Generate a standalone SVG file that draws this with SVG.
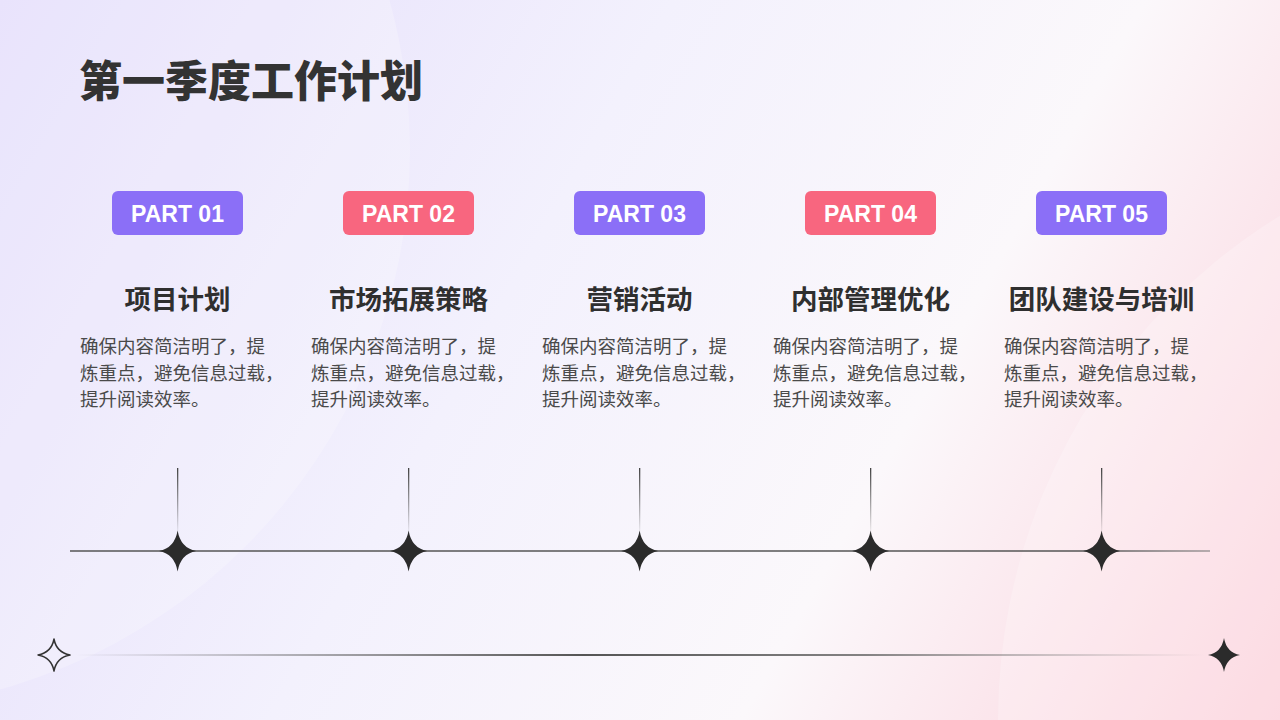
<svg xmlns="http://www.w3.org/2000/svg" width="1280" height="720" viewBox="0 0 1280 720">
  <defs>
    <linearGradient id="bg" x1="0" y1="0" x2="1280" y2="720" gradientUnits="userSpaceOnUse">
      <stop offset="0" stop-color="#e3dcfb"/>
      <stop offset="0.4" stop-color="#f3f1fd"/>
      <stop offset="0.68" stop-color="#fbf8fb"/>
      <stop offset="1" stop-color="#fbd0da"/>
    </linearGradient>
    <linearGradient id="vfade" x1="0" y1="0" x2="0" y2="1">
      <stop offset="0" stop-color="#444"/>
      <stop offset="1" stop-color="#444" stop-opacity="0"/>
    </linearGradient>
    <linearGradient id="hline" x1="70" y1="0" x2="1210" y2="0" gradientUnits="userSpaceOnUse">
      <stop offset="0" stop-color="#555"/>
      <stop offset="0.9" stop-color="#555"/>
      <stop offset="1" stop-color="#777" stop-opacity="0.7"/>
    </linearGradient>
    <linearGradient id="bline" x1="75" y1="0" x2="1205" y2="0" gradientUnits="userSpaceOnUse">
      <stop offset="0" stop-color="#555" stop-opacity="0"/>
      <stop offset="0.45" stop-color="#555"/>
      <stop offset="0.7" stop-color="#666" stop-opacity="0.8"/>
      <stop offset="1" stop-color="#888" stop-opacity="0"/>
    </linearGradient>
    <path id="star" d="M0,-20.5 Q3,-3 18.5,0 Q3,3 0,20.5 Q-3,3 -18.5,0 Q-3,-3 0,-20.5 Z"/>
  </defs>
  <style>
    .title { font-family: "Noto Sans CJK SC", "Noto Sans", sans-serif; font-weight: 900; font-size: 43px; fill: #333333; }
    .badge-p { fill: #8b6ff7; }
    .badge-r { fill: #f8667f; }
    .badge-t { font-family: "Liberation Sans", Arial, sans-serif; font-weight: 700; font-size: 23px; fill: #ffffff; text-anchor: middle; }
    .head { font-family: "Noto Sans CJK SC", "Noto Sans", sans-serif; font-weight: 700; font-size: 26.5px; fill: #2f2f2f; text-anchor: middle; }
    .body { font-family: "Noto Sans CJK SC", "Noto Sans", sans-serif; font-size: 18.5px; fill: #4a4a4a; }
    .starfill { fill: #2b2b2b; }
  </style>

  <rect x="0" y="0" width="1280" height="720" fill="url(#bg)"/>
  <circle cx="-150" cy="150" r="560" fill="#ffffff" fill-opacity="0.22"/>
  <circle cx="1590" cy="720" r="592" fill="#ffffff" fill-opacity="0.22"/>

  <text class="title" x="79" y="97">第一季度工作计划</text>

  <g id="connectors">
    <line x1="70" y1="551" x2="1210" y2="551" stroke="url(#hline)" stroke-width="1.5"/>
    <rect x="177" y="468" width="1.3" height="68" fill="url(#vfade)"/>
    <rect x="408" y="468" width="1.3" height="68" fill="url(#vfade)"/>
    <rect x="639" y="468" width="1.3" height="68" fill="url(#vfade)"/>
    <rect x="870" y="468" width="1.3" height="68" fill="url(#vfade)"/>
    <rect x="1101" y="468" width="1.3" height="68" fill="url(#vfade)"/>
    <line x1="75" y1="655" x2="1205" y2="655" stroke="url(#bline)" stroke-width="2"/>
  </g>

  <g id="node1">
    <rect class="badge-p" x="112" y="191" width="131" height="44" rx="6"/>
    <text class="badge-t" x="177.5" y="221.5">PART 01</text>
    <text class="head" x="177.5" y="309">项目计划</text>
    <text class="body" x="80" y="353">确保内容简洁明了，提</text>
    <text class="body" x="80" y="380">炼重点，避免信息过载，</text>
    <text class="body" x="80" y="406">提升阅读效率。</text>
    <use href="#star" class="starfill" x="177.6" y="551"/>
  </g>

  <g id="node2">
    <rect class="badge-r" x="343" y="191" width="131" height="44" rx="6"/>
    <text class="badge-t" x="408.5" y="221.5">PART 02</text>
    <text class="head" x="408.5" y="309">市场拓展策略</text>
    <text class="body" x="311" y="353">确保内容简洁明了，提</text>
    <text class="body" x="311" y="380">炼重点，避免信息过载，</text>
    <text class="body" x="311" y="406">提升阅读效率。</text>
    <use href="#star" class="starfill" x="408.6" y="551"/>
  </g>

  <g id="node3">
    <rect class="badge-p" x="574" y="191" width="131" height="44" rx="6"/>
    <text class="badge-t" x="639.5" y="221.5">PART 03</text>
    <text class="head" x="639.5" y="309">营销活动</text>
    <text class="body" x="542" y="353">确保内容简洁明了，提</text>
    <text class="body" x="542" y="380">炼重点，避免信息过载，</text>
    <text class="body" x="542" y="406">提升阅读效率。</text>
    <use href="#star" class="starfill" x="639.6" y="551"/>
  </g>

  <g id="node4">
    <rect class="badge-r" x="805" y="191" width="131" height="44" rx="6"/>
    <text class="badge-t" x="870.5" y="221.5">PART 04</text>
    <text class="head" x="870.5" y="309">内部管理优化</text>
    <text class="body" x="773" y="353">确保内容简洁明了，提</text>
    <text class="body" x="773" y="380">炼重点，避免信息过载，</text>
    <text class="body" x="773" y="406">提升阅读效率。</text>
    <use href="#star" class="starfill" x="870.6" y="551"/>
  </g>

  <g id="node5">
    <rect class="badge-p" x="1036" y="191" width="131" height="44" rx="6"/>
    <text class="badge-t" x="1101.5" y="221.5">PART 05</text>
    <text class="head" x="1101.5" y="309">团队建设与培训</text>
    <text class="body" x="1004" y="353">确保内容简洁明了，提</text>
    <text class="body" x="1004" y="380">炼重点，避免信息过载，</text>
    <text class="body" x="1004" y="406">提升阅读效率。</text>
    <use href="#star" class="starfill" x="1101.6" y="551"/>
  </g>

  <g id="deco-left-star">
    <path d="M54,639 Q56.5,652.5 70,655 Q56.5,657.5 54,671 Q51.5,657.5 38,655 Q51.5,652.5 54,639 Z" fill="none" stroke="#333" stroke-width="1.5" stroke-linejoin="round"/>
  </g>
  <g id="deco-right-star">
    <path d="M1224,638 Q1226.5,652.5 1240,655 Q1226.5,657.5 1224,672 Q1221.5,657.5 1208,655 Q1221.5,652.5 1224,638 Z" fill="#2b2b2b"/>
  </g>
</svg>
